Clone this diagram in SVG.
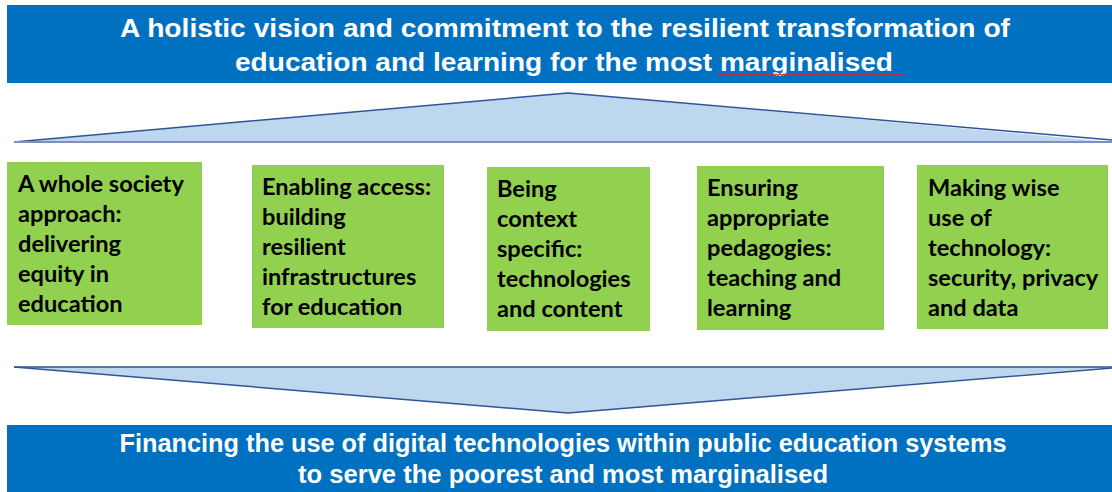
<svg xmlns="http://www.w3.org/2000/svg" width="1112" height="492" viewBox="0 0 1112 492">
  <style>
    .banner { fill: #0070C0; }
    .banner-text { font-family: "Liberation Sans", Arial, sans-serif; font-weight: bold; font-size: 26px; fill: #FFFFFF; text-anchor: middle; }
    .pillar { fill: #92D050; }
    .pillar-text { font-family: Lato, "Noto Sans", sans-serif; font-weight: bold; font-size: 23.6px; fill: #000000; }
    .wedge { fill: #BDD7EE; stroke: none; }
    .wedge-edge { fill: none; stroke: #2F5597; stroke-width: 1.5; stroke-linejoin: round; }
    .wedge-base { fill: none; stroke: #7F90BC; stroke-width: 2; }
    .squiggle { fill: none; stroke: #E0262B; stroke-width: 1.3; }
  </style>

  <rect width="1112" height="492" fill="#FFFFFF"/>

  <!-- Top banner: the overall vision -->
  <g id="vision">
    <rect class="banner" x="7" y="5" width="1105" height="78"/>
    <text class="banner-text" x="565" y="37" textLength="890" lengthAdjust="spacingAndGlyphs">A holistic vision and commitment to the resilient transformation of</text>
    <text class="banner-text" x="564" y="71" textLength="658" lengthAdjust="spacingAndGlyphs">education and learning for the most marginalised</text>
    <path class="squiggle" d="M718,75.5 l2,-1.5 l2,1.5 l2,-1.5 l2,1.5 l2,-1.5 l2,1.5 l2,-1.5 l2,1.5 l2,-1.5 l2,1.5 l2,-1.5 l2,1.5 l2,-1.5 l2,1.5 l2,-1.5 l2,1.5 l2,-1.5 l2,1.5 l2,-1.5 l2,1.5 l2,-1.5 l2,1.5 l2,-1.5 l2,1.5 l2,-1.5 l2,1.5 l2,-1.5 l2,1.5 l2,-1.5 l2,1.5 l2,-1.5 l2,1.5 l2,-1.5 l2,1.5 l2,-1.5 l2,1.5 l2,-1.5 l2,1.5 l2,-1.5 l2,1.5 l2,-1.5 l2,1.5 l2,-1.5 l2,1.5 l2,-1.5 l2,1.5 l2,-1.5 l2,1.5 l2,-1.5 l2,1.5 l2,-1.5 l2,1.5 l2,-1.5 l2,1.5 l2,-1.5 l2,1.5 l2,-1.5 l2,1.5 l2,-1.5 l2,1.5 l2,-1.5 l2,1.5 l2,-1.5 l2,1.5 l2,-1.5 l2,1.5 l2,-1.5 l2,1.5 l2,-1.5 l2,1.5 l2,-1.5 l2,1.5 l2,-1.5 l2,1.5 l2,-1.5 l2,1.5 l2,-1.5 l2,1.5 l2,-1.5 l2,1.5 l2,-1.5 l2,1.5 l2,-1.5 l2,1.5 l2,-1.5 l2,1.5 l2,-1.5 l2,1.5 l2,-1.5 l2,1.5 l2,-1.5 l2,1.5"/>
  </g>

  <!-- Wedge shapes linking the banners and the pillars -->
  <g id="connectors">
    <polygon class="wedge" points="14,142 568,93 1112,142"/>
    <polyline class="wedge-edge" points="14,142 568,93 1112,140"/>
    <line class="wedge-base" x1="14" y1="142" x2="1112" y2="142"/>

    <polygon class="wedge" points="14,367 1112,367 568,413"/>
    <polyline class="wedge-edge" points="14,367 568,413 1112,368"/>
    <line class="wedge-edge" x1="14" y1="367" x2="1112" y2="367" stroke-width="1.2"/>
  </g>

  <!-- Five pillars -->
  <g id="pillar-1">
    <rect class="pillar" x="7" y="162" width="195" height="163"/>
    <text class="pillar-text">
      <tspan x="18" y="192">A whole society</tspan>
      <tspan x="18" y="222">approach:</tspan>
      <tspan x="18" y="252">delivering</tspan>
      <tspan x="18" y="282">equity in</tspan>
      <tspan x="18" y="312">education</tspan>
    </text>
  </g>

  <g id="pillar-2">
    <rect class="pillar" x="252" y="165" width="192" height="163"/>
    <text class="pillar-text">
      <tspan x="262" y="195">Enabling access:</tspan>
      <tspan x="262" y="225">building</tspan>
      <tspan x="262" y="255">resilient</tspan>
      <tspan x="262" y="285">infrastructures</tspan>
      <tspan x="262" y="315">for education</tspan>
    </text>
  </g>

  <g id="pillar-3">
    <rect class="pillar" x="487" y="167" width="163" height="164"/>
    <text class="pillar-text">
      <tspan x="497" y="197">Being</tspan>
      <tspan x="497" y="227">context</tspan>
      <tspan x="497" y="257">specific:</tspan>
      <tspan x="497" y="287">technologies</tspan>
      <tspan x="497" y="317">and content</tspan>
    </text>
  </g>

  <g id="pillar-4">
    <rect class="pillar" x="697" y="166" width="187" height="164"/>
    <text class="pillar-text">
      <tspan x="707" y="196">Ensuring</tspan>
      <tspan x="707" y="226">appropriate</tspan>
      <tspan x="707" y="256">pedagogies:</tspan>
      <tspan x="707" y="286">teaching and</tspan>
      <tspan x="707" y="316">learning</tspan>
    </text>
  </g>

  <g id="pillar-5">
    <rect class="pillar" x="917" y="165" width="191" height="164"/>
    <text class="pillar-text">
      <tspan x="928" y="196">Making wise</tspan>
      <tspan x="928" y="226">use of</tspan>
      <tspan x="928" y="256">technology:</tspan>
      <tspan x="928" y="286">security, privacy</tspan>
      <tspan x="928" y="316">and data</tspan>
    </text>
  </g>

  <!-- Bottom banner: financing -->
  <g id="financing">
    <rect class="banner" x="7" y="425" width="1105" height="67"/>
    <text class="banner-text" x="563" y="452" textLength="887" lengthAdjust="spacingAndGlyphs">Financing the use of digital technologies within public education systems</text>
    <text class="banner-text" x="563" y="483" textLength="530" lengthAdjust="spacingAndGlyphs">to serve the poorest and most marginalised</text>
  </g>
</svg>
